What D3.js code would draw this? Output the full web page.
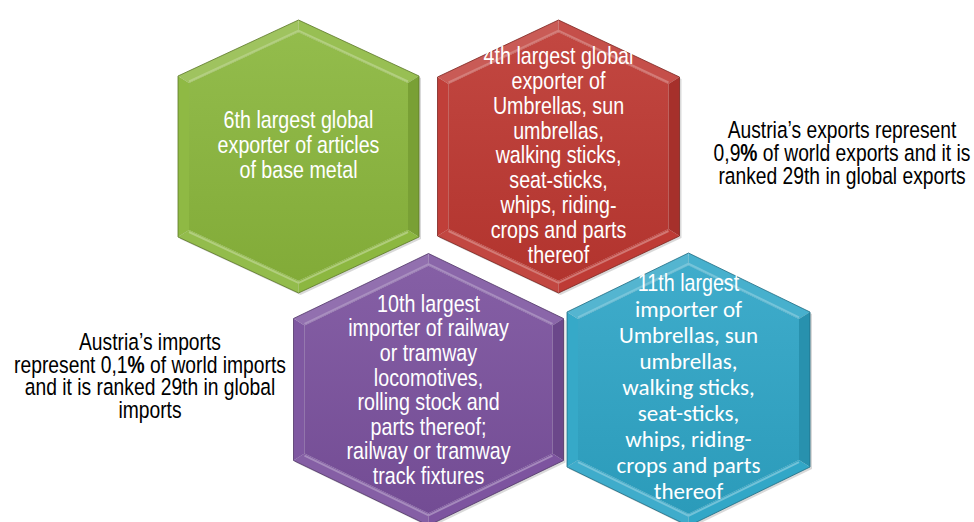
<!DOCTYPE html>
<meta charset="utf-8">
<script src="https://d3js.org/d3.v7.min.js"></script>
<style>
body { margin: 0; background: #fff; }
svg { display: block; }
.narrow { font-family: "Liberation Sans", Arial, sans-serif; }
.wide { font-family: Carlito, Calibri, Lato, sans-serif; }
</style>
<div id="chart"></div>
<script>
// ---- data ----
var hexLabels = [
  ["6th largest global", "exporter of articles", "of base metal"],
  ["4th largest global", "exporter of", "Umbrellas, sun", "umbrellas,", "walking sticks,", "seat-sticks,", "whips, riding-", "crops and parts", "thereof"],
  ["10th largest", "importer of railway", "or tramway", "locomotives,", "rolling stock and", "parts thereof;", "railway or tramway", "track fixtures"],
  ["11th largest", "importer of", "Umbrellas, sun", "umbrellas,", "walking sticks,", "seat-sticks,", "whips, riding-", "crops and parts", "thereof"]
];
var hexCol = [0, 1, 0.5, 1.5];
var hexRow = [0, 0, 1, 1];
var hexColors = ["#8ab63c", "#bd3731", "#7a519d", "#2ea5c6"];

var exportNote = ["Austria\u2019s exports represent", ["0,9", "%", " of world exports and it is"], "ranked 29th in global exports"];
var importNote = ["Austria\u2019s imports", ["represent 0,1", "%", " of world imports"], "and it is ranked 29th in global", "imports"];

// ---- layout ----
var W = 974, H = 522;
var NARROW = 0.82; // Arial Narrow is Arial squeezed to ~82%
var x = d3.scaleLinear().domain([0, 1]).range([298.5, 558.5]);
var y = d3.scaleLinear().domain([0, 1]).range([156.5, 389.5]);
// half width, half height, vertical rise of slanted edges
var hexSize = [[120.5, 136.5, 56], [121, 136.5, 57], [135, 136, 65], [121.5, 136.5, 59]];
// text block: font size, line step, offset of block centre, font
var hexText = [[24, 25, -11.5, "narrow"], [24, 24.8, -1.5, "narrow"], [24, 24.6, 0, "narrow"], [23, 26, -2.5, "wide"]];

var svg = d3.select("#chart").append("svg").attr("width", W).attr("height", H);
svg.append("rect").attr("width", W).attr("height", H).attr("fill", "#fff");
var defs = svg.append("defs");

function hexPoints(cx, cy, s) {
  var hw = s[0], hh = s[1], d = s[2];
  return [[cx, cy - hh], [cx + hw, cy - hh + d], [cx + hw, cy + hh - d],
          [cx, cy + hh], [cx - hw, cy + hh - d], [cx - hw, cy - hh + d]];
}

function inset(pts, b) {
  var n = pts.length;
  var cx = d3.mean(pts, function(p) { return p[0]; }), cy = d3.mean(pts, function(p) { return p[1]; });
  var lines = pts.map(function(p, i) {
    var q = pts[(i + 1) % n], dx = q[0] - p[0], dy = q[1] - p[1], L = Math.hypot(dx, dy);
    var nx = -dy / L, ny = dx / L;
    if ((cx - p[0]) * nx + (cy - p[1]) * ny < 0) { nx = -nx; ny = -ny; }
    return {p: [p[0] + nx * b, p[1] + ny * b], d: [dx, dy]};
  });
  return pts.map(function(_, i) {
    var l1 = lines[(i - 1 + n) % n], l2 = lines[i];
    var cr = l1.d[0] * l2.d[1] - l1.d[1] * l2.d[0];
    var t = ((l2.p[0] - l1.p[0]) * l2.d[1] - (l2.p[1] - l1.p[1]) * l2.d[0]) / cr;
    return [l1.p[0] + t * l1.d[0], l1.p[1] + t * l1.d[1]];
  });
}

function shade(c, s) {
  return s >= 0 ? d3.interpolateRgb(c, "#fff")(s) : d3.interpolateRgb(c, "#000")(-s);
}

// facet shading: edges 0 top-right, 1 right, 2 bottom-right, 3 bottom-left, 4 left, 5 top-left
var facetShade = [0.12, -0.12, 0.02, 0.08, 0.04, 0.18];

function narrowLine(parent, cx, yy, size) {
  return parent.append("text").attr("class", "narrow").attr("text-anchor", "middle")
    .attr("font-size", size)
    .attr("transform", "translate(" + cx + "," + yy + ") scale(" + NARROW + ",1)");
}

hexLabels.forEach(function(lines, i) {
  var cx = x(hexCol[i]), cy = y(hexRow[i]);
  var outer = hexPoints(cx, cy, hexSize[i]);
  var inner = inset(outer, 11);
  var base = hexColors[i];
  var g = svg.append("g");

  var gid = "face" + i;
  var grad = defs.append("linearGradient").attr("id", gid).attr("x1", 0).attr("y1", 0).attr("x2", 0).attr("y2", 1);
  grad.append("stop").attr("offset", "0%").attr("stop-color", shade(base, 0.08));
  grad.append("stop").attr("offset", "100%").attr("stop-color", shade(base, -0.06));

  // shadow
  g.append("polygon")
    .attr("points", outer.map(function(p) { return [p[0] + 2, p[1] + 2]; }).join(" "))
    .attr("fill", "#000").attr("opacity", 0.15);

  // bevel facets
  outer.forEach(function(p, k) {
    var q = outer[(k + 1) % 6];
    g.append("polygon")
      .attr("points", [p, q, inner[(k + 1) % 6], inner[k]].join(" "))
      .attr("fill", shade(base, facetShade[k]));
  });
  // light line at inner edge of top and lower facets
  [5, 0, 2, 3].forEach(function(k) {
    var a = inner[k], b = inner[(k + 1) % 6];
    var dy = k >= 2 && k <= 3 ? 2 : -1.5;
    g.append("line")
      .attr("x1", a[0]).attr("y1", a[1] + dy)
      .attr("x2", b[0]).attr("y2", b[1] + dy)
      .attr("stroke", shade(base, 0.4)).attr("stroke-width", 2).attr("opacity", 0.8);
  });
  g.append("polygon").attr("points", inner.join(" ")).attr("fill", "url(#" + gid + ")");
  g.append("polygon").attr("points", outer.join(" "))
    .attr("fill", "none").attr("stroke", shade(base, -0.35)).attr("stroke-width", 0.8);

  var ts = hexText[i];
  var n = lines.length;
  lines.forEach(function(line, j) {
    var yy = cy + ts[2] + (j - (n - 1) / 2) * ts[1] + 0.35 * ts[0];
    var t;
    if (ts[3] === "narrow" || j === 0) {
      t = narrowLine(g, cx, yy, 24);
    } else {
      t = g.append("text").attr("class", "wide").attr("text-anchor", "middle")
        .attr("font-size", ts[0]).attr("x", cx).attr("y", yy);
    }
    t.attr("fill", "#fff").text(line);
  });
});

function note(lines, cx, y0, step) {
  lines.forEach(function(line, j) {
    var t = narrowLine(svg, cx, y0 + j * step + 8, 23.5).attr("fill", "#000");
    if (Array.isArray(line)) {
      t.append("tspan").text(line[0]);
      t.append("tspan").attr("font-weight", "bold").text(line[1]);
      t.append("tspan").text(line[2]);
    } else {
      t.text(line);
    }
  });
}
note(exportNote, 842, 130, 23);
note(importNote, 150, 342, 22.5);
</script>
